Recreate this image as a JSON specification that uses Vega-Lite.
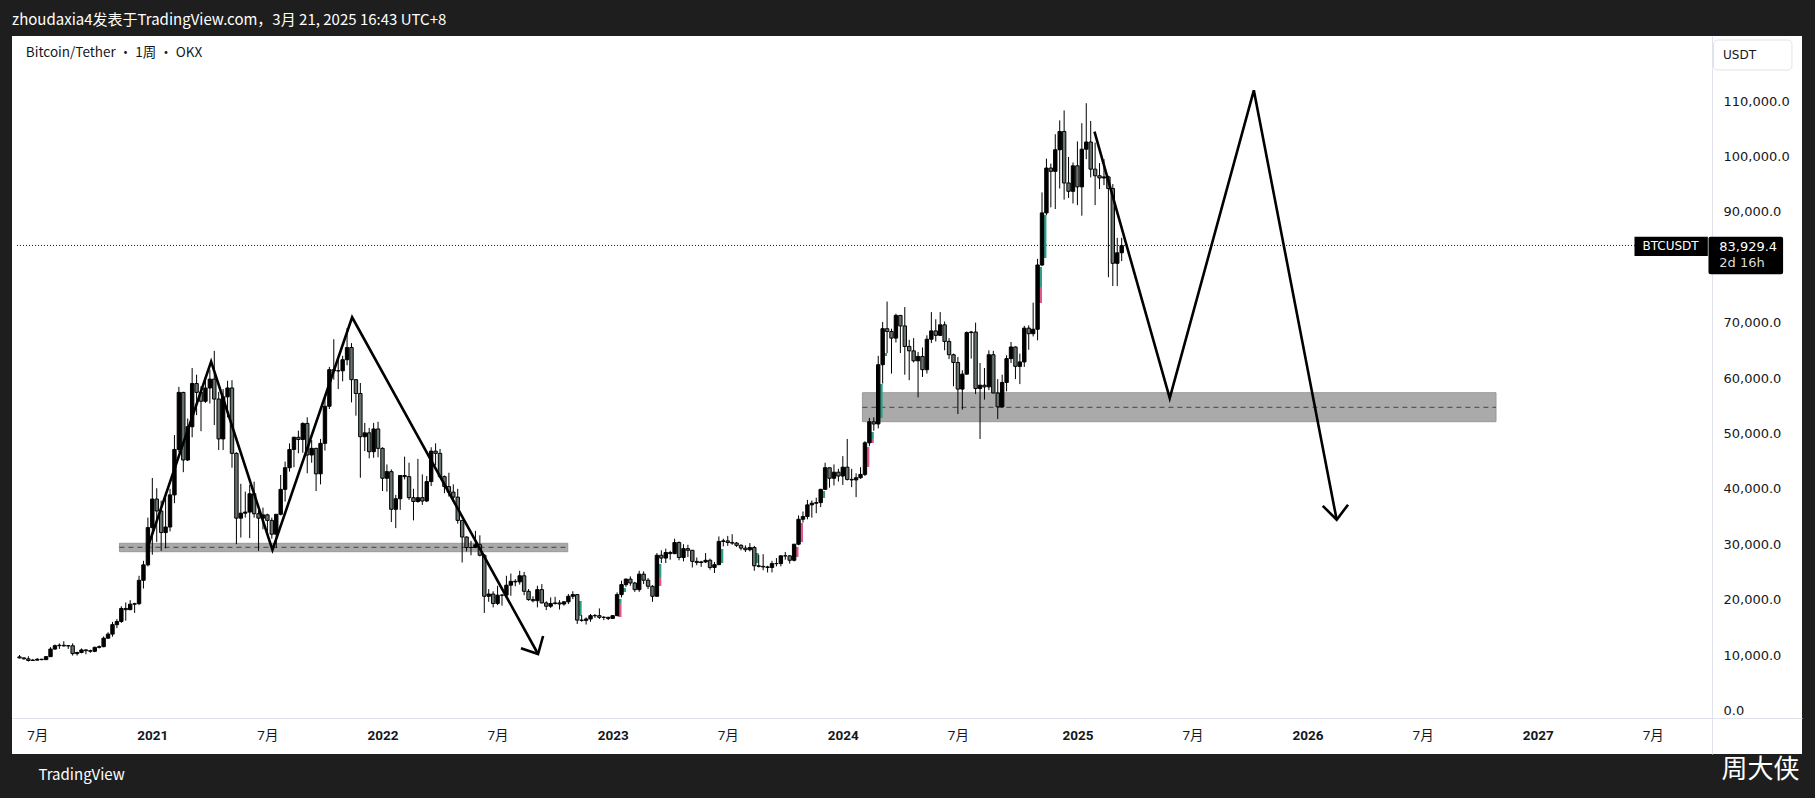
{
  "$schema": "https://vega.github.io/schema/vega-lite/v6.json",
  "width": 1790,
  "height": 718,
  "autosize": "none",
  "padding": {"left": 12, "top": 36, "right": 13, "bottom": 44},
  "background": "#1e1e1e",
  "title": {
    "text": "zhoudaxia4发表于TradingView.com，3月 21, 2025 16:43 UTC+8",
    "anchor": "start", "frame": "group", "offset": 8,
    "fontSize": 15, "font": "Noto Sans CJK SC", "fontWeight": "normal", "color": "#ffffff"
  },
  "config": {"view": {"fill": "#ffffff", "stroke": null}},
  "datasets": {
    "candles": [
      {"d":"2020-06-08","o":9660,"h":9990,"l":9380,"c":9470},
      {"d":"2020-06-15","o":9470,"h":9600,"l":9200,"c":9300},
      {"d":"2020-06-22","o":9300,"h":9770,"l":8830,"c":9010},
      {"d":"2020-06-29","o":9010,"h":9300,"l":8990,"c":9070},
      {"d":"2020-07-06","o":9070,"h":9450,"l":9040,"c":9230},
      {"d":"2020-07-13","o":9230,"h":9340,"l":9050,"c":9160},
      {"d":"2020-07-20","o":9160,"h":9780,"l":9140,"c":9700},
      {"d":"2020-07-27","o":9700,"h":11420,"l":9680,"c":11070},
      {"d":"2020-08-03","o":11070,"h":11900,"l":10950,"c":11680},
      {"d":"2020-08-10","o":11680,"h":12100,"l":11100,"c":11760},
      {"d":"2020-08-17","o":11760,"h":12480,"l":11530,"c":11640},
      {"d":"2020-08-24","o":11640,"h":11800,"l":11100,"c":11670},
      {"d":"2020-08-31","o":11670,"h":12100,"l":9900,"c":10250},
      {"d":"2020-09-07","o":10250,"h":10600,"l":9900,"c":10450},
      {"d":"2020-09-14","o":10450,"h":11180,"l":10300,"c":10920},
      {"d":"2020-09-21","o":10920,"h":10990,"l":10130,"c":10780},
      {"d":"2020-09-28","o":10780,"h":10960,"l":10400,"c":10670},
      {"d":"2020-10-05","o":10670,"h":11500,"l":10520,"c":11380},
      {"d":"2020-10-12","o":11380,"h":11730,"l":11180,"c":11500},
      {"d":"2020-10-19","o":11500,"h":13350,"l":11400,"c":13030},
      {"d":"2020-10-26","o":13030,"h":14100,"l":12950,"c":13770},
      {"d":"2020-11-02","o":13770,"h":15970,"l":13300,"c":15480},
      {"d":"2020-11-09","o":15480,"h":16480,"l":14850,"c":16060},
      {"d":"2020-11-16","o":16060,"h":18800,"l":15800,"c":18400},
      {"d":"2020-11-23","o":18400,"h":19480,"l":16200,"c":18180},
      {"d":"2020-11-30","o":18180,"h":19900,"l":18100,"c":19170},
      {"d":"2020-12-07","o":19170,"h":19420,"l":17600,"c":19270},
      {"d":"2020-12-14","o":19270,"h":24300,"l":19000,"c":23480},
      {"d":"2020-12-21","o":23480,"h":27000,"l":22000,"c":26270},
      {"d":"2020-12-28","o":26270,"h":34800,"l":26000,"c":33000},
      {"d":"2021-01-04","o":33000,"h":41950,"l":28100,"c":38150},
      {"d":"2021-01-11","o":38150,"h":40100,"l":30400,"c":36000},
      {"d":"2021-01-18","o":36000,"h":37850,"l":28800,"c":32100},
      {"d":"2021-01-25","o":32100,"h":38500,"l":29250,"c":33100},
      {"d":"2021-02-01","o":33100,"h":40000,"l":32300,"c":38900},
      {"d":"2021-02-08","o":38900,"h":49700,"l":37400,"c":47100},
      {"d":"2021-02-15","o":47100,"h":58400,"l":46600,"c":57400},
      {"d":"2021-02-22","o":57400,"h":57500,"l":43000,"c":45200},
      {"d":"2021-03-01","o":45200,"h":52700,"l":45000,"c":51200},
      {"d":"2021-03-08","o":51200,"h":61800,"l":49300,"c":59000},
      {"d":"2021-03-15","o":59000,"h":60600,"l":53300,"c":57400},
      {"d":"2021-03-22","o":57400,"h":58500,"l":50400,"c":55800},
      {"d":"2021-03-29","o":55800,"h":60200,"l":55500,"c":58200},
      {"d":"2021-04-05","o":58200,"h":61500,"l":55400,"c":59800},
      {"d":"2021-04-12","o":59800,"h":64900,"l":51500,"c":56200},
      {"d":"2021-04-19","o":56200,"h":57500,"l":47000,"c":49000},
      {"d":"2021-04-26","o":49000,"h":58000,"l":47000,"c":56600},
      {"d":"2021-05-03","o":56600,"h":59500,"l":52900,"c":58200},
      {"d":"2021-05-10","o":58200,"h":59600,"l":43800,"c":46400},
      {"d":"2021-05-17","o":46400,"h":46600,"l":30000,"c":34700},
      {"d":"2021-05-24","o":34700,"h":40900,"l":31200,"c":35600},
      {"d":"2021-05-31","o":35600,"h":39500,"l":34800,"c":35800},
      {"d":"2021-06-07","o":35800,"h":40700,"l":31100,"c":39100},
      {"d":"2021-06-14","o":39100,"h":41300,"l":34800,"c":35500},
      {"d":"2021-06-21","o":35500,"h":36100,"l":28800,"c":34700},
      {"d":"2021-06-28","o":34700,"h":36600,"l":32700,"c":35300},
      {"d":"2021-07-05","o":35300,"h":35500,"l":32200,"c":34300},
      {"d":"2021-07-12","o":34300,"h":34800,"l":31000,"c":31800},
      {"d":"2021-07-19","o":31800,"h":35400,"l":29300,"c":35400},
      {"d":"2021-07-26","o":35400,"h":42500,"l":35200,"c":39900},
      {"d":"2021-08-02","o":39900,"h":44900,"l":37700,"c":43800},
      {"d":"2021-08-09","o":43800,"h":48200,"l":43100,"c":47100},
      {"d":"2021-08-16","o":47100,"h":49400,"l":43900,"c":49300},
      {"d":"2021-08-23","o":49300,"h":50500,"l":46400,"c":48900},
      {"d":"2021-08-30","o":48900,"h":52000,"l":46500,"c":51800},
      {"d":"2021-09-06","o":51800,"h":52900,"l":42800,"c":46100},
      {"d":"2021-09-13","o":46100,"h":48800,"l":44700,"c":47300},
      {"d":"2021-09-20","o":47300,"h":47400,"l":39600,"c":42700},
      {"d":"2021-09-27","o":42700,"h":49000,"l":40800,"c":48200},
      {"d":"2021-10-04","o":48200,"h":56500,"l":46900,"c":54900},
      {"d":"2021-10-11","o":54900,"h":62000,"l":54400,"c":61500},
      {"d":"2021-10-18","o":61500,"h":67000,"l":59700,"c":61300},
      {"d":"2021-10-25","o":61300,"h":63700,"l":58000,"c":61300},
      {"d":"2021-11-01","o":61300,"h":64000,"l":59400,"c":63300},
      {"d":"2021-11-08","o":63300,"h":69000,"l":62300,"c":65500},
      {"d":"2021-11-15","o":65500,"h":66300,"l":55600,"c":59700},
      {"d":"2021-11-22","o":59700,"h":59800,"l":53200,"c":57200},
      {"d":"2021-11-29","o":57200,"h":59100,"l":42000,"c":49400},
      {"d":"2021-12-06","o":49400,"h":51900,"l":46800,"c":50100},
      {"d":"2021-12-13","o":50100,"h":51000,"l":45500,"c":46700},
      {"d":"2021-12-20","o":46700,"h":51900,"l":45600,"c":50800},
      {"d":"2021-12-27","o":50800,"h":52100,"l":45700,"c":47300},
      {"d":"2022-01-03","o":47300,"h":47500,"l":39600,"c":41900},
      {"d":"2022-01-10","o":41900,"h":44400,"l":39500,"c":43100},
      {"d":"2022-01-17","o":43100,"h":43500,"l":34000,"c":36300},
      {"d":"2022-01-24","o":36300,"h":38900,"l":32900,"c":38200},
      {"d":"2022-01-31","o":38200,"h":42500,"l":36200,"c":42400},
      {"d":"2022-02-07","o":42400,"h":45800,"l":41700,"c":42200},
      {"d":"2022-02-14","o":42200,"h":44700,"l":38000,"c":38400},
      {"d":"2022-02-21","o":38400,"h":40000,"l":34300,"c":37700},
      {"d":"2022-02-28","o":37700,"h":45400,"l":37500,"c":38400},
      {"d":"2022-03-07","o":38400,"h":42600,"l":37100,"c":37800},
      {"d":"2022-03-14","o":37800,"h":42300,"l":37600,"c":41300},
      {"d":"2022-03-21","o":41300,"h":47500,"l":40500,"c":46800},
      {"d":"2022-03-28","o":46800,"h":48200,"l":44200,"c":46400},
      {"d":"2022-04-04","o":46400,"h":47200,"l":42000,"c":42200},
      {"d":"2022-04-11","o":42200,"h":42400,"l":39200,"c":40400},
      {"d":"2022-04-18","o":40400,"h":42900,"l":38600,"c":39400},
      {"d":"2022-04-25","o":39400,"h":40800,"l":37600,"c":38500},
      {"d":"2022-05-02","o":38500,"h":40000,"l":33700,"c":34300},
      {"d":"2022-05-09","o":34300,"h":34300,"l":26700,"c":31300},
      {"d":"2022-05-16","o":31300,"h":31400,"l":28700,"c":29400},
      {"d":"2022-05-23","o":29400,"h":30600,"l":28000,"c":29400},
      {"d":"2022-05-30","o":29400,"h":32400,"l":29300,"c":29900},
      {"d":"2022-06-06","o":29900,"h":31600,"l":27800,"c":28000},
      {"d":"2022-06-13","o":28000,"h":28200,"l":17600,"c":20600},
      {"d":"2022-06-20","o":20600,"h":21900,"l":19600,"c":21000},
      {"d":"2022-06-27","o":21000,"h":21500,"l":18600,"c":19300},
      {"d":"2022-07-04","o":19300,"h":22500,"l":19000,"c":20800},
      {"d":"2022-07-11","o":20800,"h":21000,"l":18900,"c":20800},
      {"d":"2022-07-18","o":20800,"h":24300,"l":20700,"c":22600},
      {"d":"2022-07-25","o":22600,"h":24700,"l":20700,"c":23300},
      {"d":"2022-08-01","o":23300,"h":23700,"l":22400,"c":23200},
      {"d":"2022-08-08","o":23200,"h":25200,"l":22700,"c":24300},
      {"d":"2022-08-15","o":24300,"h":25000,"l":20800,"c":21500},
      {"d":"2022-08-22","o":21500,"h":21900,"l":19800,"c":20000},
      {"d":"2022-08-29","o":20000,"h":20600,"l":19500,"c":19800},
      {"d":"2022-09-05","o":19800,"h":22500,"l":18600,"c":21800},
      {"d":"2022-09-12","o":21800,"h":22800,"l":19300,"c":19400},
      {"d":"2022-09-19","o":19400,"h":19700,"l":18100,"c":18800},
      {"d":"2022-09-26","o":18800,"h":20400,"l":18500,"c":19300},
      {"d":"2022-10-03","o":19300,"h":20500,"l":19100,"c":19400},
      {"d":"2022-10-10","o":19400,"h":19900,"l":18200,"c":19200},
      {"d":"2022-10-17","o":19200,"h":19700,"l":18900,"c":19600},
      {"d":"2022-10-24","o":19600,"h":21000,"l":19200,"c":20600},
      {"d":"2022-10-31","o":20600,"h":21500,"l":20100,"c":20900},
      {"d":"2022-11-07","o":20900,"h":21000,"l":15600,"c":16300},
      {"d":"2022-11-14","o":16300,"h":17200,"l":16000,"c":16250},
      {"d":"2022-11-21","o":16250,"h":16800,"l":15500,"c":16500},
      {"d":"2022-11-28","o":16500,"h":17400,"l":16000,"c":17100},
      {"d":"2022-12-05","o":17100,"h":17400,"l":16700,"c":17100},
      {"d":"2022-12-12","o":17100,"h":18400,"l":16500,"c":16800},
      {"d":"2022-12-19","o":16800,"h":17000,"l":16300,"c":16800},
      {"d":"2022-12-26","o":16800,"h":16900,"l":16300,"c":16600},
      {"d":"2023-01-02","o":16600,"h":17200,"l":16500,"c":17100},
      {"d":"2023-01-09","o":17100,"h":21300,"l":17100,"c":20900},
      {"d":"2023-01-16","o":20900,"h":23400,"l":20400,"c":22700},
      {"d":"2023-01-23","o":22700,"h":23800,"l":22300,"c":23700},
      {"d":"2023-01-30","o":23700,"h":24200,"l":22500,"c":23000},
      {"d":"2023-02-06","o":23000,"h":23200,"l":21400,"c":21800},
      {"d":"2023-02-13","o":21800,"h":25200,"l":21400,"c":24600},
      {"d":"2023-02-20","o":24600,"h":25100,"l":22800,"c":23500},
      {"d":"2023-02-27","o":23500,"h":23900,"l":21900,"c":22400},
      {"d":"2023-03-06","o":22400,"h":22600,"l":19600,"c":20600},
      {"d":"2023-03-13","o":20600,"h":28400,"l":20600,"c":28000},
      {"d":"2023-03-20","o":28000,"h":28900,"l":26600,"c":27500},
      {"d":"2023-03-27","o":27500,"h":29200,"l":26600,"c":28500},
      {"d":"2023-04-03","o":28500,"h":28800,"l":27200,"c":28300},
      {"d":"2023-04-10","o":28300,"h":31000,"l":28200,"c":30300},
      {"d":"2023-04-17","o":30300,"h":30500,"l":27100,"c":27600},
      {"d":"2023-04-24","o":27600,"h":30000,"l":26900,"c":29200},
      {"d":"2023-05-01","o":29200,"h":29900,"l":27700,"c":28900},
      {"d":"2023-05-08","o":28900,"h":28900,"l":25800,"c":26900},
      {"d":"2023-05-15","o":26900,"h":27600,"l":26200,"c":26700},
      {"d":"2023-05-22","o":26700,"h":27000,"l":25900,"c":26800},
      {"d":"2023-05-29","o":26800,"h":28400,"l":26600,"c":27100},
      {"d":"2023-06-05","o":27100,"h":27400,"l":25400,"c":25800},
      {"d":"2023-06-12","o":25800,"h":26800,"l":24800,"c":26300},
      {"d":"2023-06-19","o":26300,"h":31400,"l":26300,"c":30500},
      {"d":"2023-06-26","o":30500,"h":31000,"l":29600,"c":30600},
      {"d":"2023-07-03","o":30600,"h":31500,"l":29700,"c":30300},
      {"d":"2023-07-10","o":30300,"h":31800,"l":29900,"c":30200},
      {"d":"2023-07-17","o":30200,"h":30400,"l":29500,"c":29800},
      {"d":"2023-07-24","o":29800,"h":30000,"l":28900,"c":29300},
      {"d":"2023-07-31","o":29300,"h":29800,"l":28600,"c":29000},
      {"d":"2023-08-07","o":29000,"h":30200,"l":28700,"c":29400},
      {"d":"2023-08-14","o":29400,"h":29700,"l":25200,"c":26100},
      {"d":"2023-08-21","o":26100,"h":28100,"l":25800,"c":26000},
      {"d":"2023-08-28","o":26000,"h":28200,"l":25300,"c":25900},
      {"d":"2023-09-04","o":25900,"h":26100,"l":24900,"c":25800},
      {"d":"2023-09-11","o":25800,"h":27000,"l":24900,"c":26500},
      {"d":"2023-09-18","o":26500,"h":27500,"l":26000,"c":26500},
      {"d":"2023-09-25","o":26500,"h":28000,"l":26000,"c":27900},
      {"d":"2023-10-02","o":27900,"h":28600,"l":27200,"c":27900},
      {"d":"2023-10-09","o":27900,"h":28000,"l":26500,"c":27100},
      {"d":"2023-10-16","o":27100,"h":30000,"l":26900,"c":30000},
      {"d":"2023-10-23","o":30000,"h":35200,"l":29800,"c":34500},
      {"d":"2023-10-30","o":34500,"h":35900,"l":33900,"c":35000},
      {"d":"2023-11-06","o":35000,"h":38000,"l":34500,"c":37100},
      {"d":"2023-11-13","o":37100,"h":37900,"l":34800,"c":37400},
      {"d":"2023-11-20","o":37400,"h":38400,"l":35600,"c":37500},
      {"d":"2023-11-27","o":37500,"h":40000,"l":36700,"c":39900},
      {"d":"2023-12-04","o":39900,"h":44700,"l":39900,"c":43800},
      {"d":"2023-12-11","o":43800,"h":43800,"l":40200,"c":41900},
      {"d":"2023-12-18","o":41900,"h":44400,"l":40600,"c":43000},
      {"d":"2023-12-25","o":43000,"h":43600,"l":41300,"c":42300},
      {"d":"2024-01-01","o":42300,"h":45900,"l":40700,"c":43900},
      {"d":"2024-01-08","o":43900,"h":49000,"l":41500,"c":41700},
      {"d":"2024-01-15","o":41700,"h":43600,"l":40300,"c":41600},
      {"d":"2024-01-22","o":41600,"h":42800,"l":38500,"c":42000},
      {"d":"2024-01-29","o":42000,"h":43900,"l":41800,"c":42600},
      {"d":"2024-02-05","o":42600,"h":48600,"l":42300,"c":48300},
      {"d":"2024-02-12","o":48300,"h":52800,"l":47700,"c":52100},
      {"d":"2024-02-19","o":52100,"h":52900,"l":50500,"c":51700},
      {"d":"2024-02-26","o":51700,"h":64000,"l":50900,"c":62400},
      {"d":"2024-03-04","o":62400,"h":70100,"l":59000,"c":68900},
      {"d":"2024-03-11","o":68900,"h":73800,"l":64500,"c":68400},
      {"d":"2024-03-18","o":68400,"h":68900,"l":60800,"c":67200},
      {"d":"2024-03-25","o":67200,"h":71600,"l":66400,"c":71300},
      {"d":"2024-04-01","o":71300,"h":71300,"l":64500,"c":69400},
      {"d":"2024-04-08","o":69400,"h":72800,"l":60600,"c":65700},
      {"d":"2024-04-15","o":65700,"h":66900,"l":59600,"c":64900},
      {"d":"2024-04-22","o":64900,"h":67200,"l":62800,"c":63100},
      {"d":"2024-04-29","o":63100,"h":64700,"l":56500,"c":63900},
      {"d":"2024-05-06","o":63900,"h":65500,"l":60200,"c":61500},
      {"d":"2024-05-13","o":61500,"h":67700,"l":60800,"c":67000},
      {"d":"2024-05-20","o":67000,"h":71900,"l":66300,"c":68500},
      {"d":"2024-05-27","o":68500,"h":70600,"l":66600,"c":67700},
      {"d":"2024-06-03","o":67700,"h":71900,"l":67600,"c":69600},
      {"d":"2024-06-10","o":69600,"h":70200,"l":65000,"c":66600},
      {"d":"2024-06-17","o":66600,"h":67200,"l":63400,"c":64200},
      {"d":"2024-06-24","o":64200,"h":64400,"l":58500,"c":62800},
      {"d":"2024-07-01","o":62800,"h":63800,"l":53500,"c":58000},
      {"d":"2024-07-08","o":58000,"h":61400,"l":54300,"c":60700},
      {"d":"2024-07-15","o":60700,"h":68400,"l":60600,"c":68200},
      {"d":"2024-07-22","o":68200,"h":68500,"l":63500,"c":68300},
      {"d":"2024-07-29","o":68300,"h":70000,"l":57100,"c":58100},
      {"d":"2024-08-05","o":58100,"h":62700,"l":49000,"c":58700},
      {"d":"2024-08-12","o":58700,"h":61800,"l":56100,"c":58400},
      {"d":"2024-08-19","o":58400,"h":65000,"l":57800,"c":64200},
      {"d":"2024-08-26","o":64200,"h":64900,"l":57200,"c":57300},
      {"d":"2024-09-02","o":57300,"h":59800,"l":52600,"c":54800},
      {"d":"2024-09-09","o":54800,"h":60600,"l":54600,"c":59200},
      {"d":"2024-09-16","o":59200,"h":64100,"l":57600,"c":63500},
      {"d":"2024-09-23","o":63500,"h":66500,"l":62700,"c":65600},
      {"d":"2024-09-30","o":65600,"h":65700,"l":59800,"c":62100},
      {"d":"2024-10-07","o":62100,"h":64400,"l":58900,"c":62900},
      {"d":"2024-10-14","o":62900,"h":69400,"l":62000,"c":69000},
      {"d":"2024-10-21","o":69000,"h":69500,"l":65100,"c":68000},
      {"d":"2024-10-28","o":68000,"h":73600,"l":67500,"c":68800},
      {"d":"2024-11-04","o":68800,"h":81500,"l":66800,"c":80400},
      {"d":"2024-11-11","o":80400,"h":93500,"l":80200,"c":89800},
      {"d":"2024-11-18","o":89800,"h":99600,"l":89400,"c":97900},
      {"d":"2024-11-25","o":97900,"h":98700,"l":90800,"c":97300},
      {"d":"2024-12-02","o":97300,"h":104000,"l":90500,"c":101200},
      {"d":"2024-12-09","o":101200,"h":106500,"l":94200,"c":104500},
      {"d":"2024-12-16","o":104500,"h":108300,"l":92200,"c":95200},
      {"d":"2024-12-23","o":95200,"h":99900,"l":92500,"c":93700},
      {"d":"2024-12-30","o":93700,"h":98900,"l":91500,"c":98300},
      {"d":"2025-01-06","o":98300,"h":102700,"l":91200,"c":94500},
      {"d":"2025-01-13","o":94500,"h":106000,"l":89300,"c":101300},
      {"d":"2025-01-20","o":101300,"h":109600,"l":99500,"c":102600},
      {"d":"2025-01-27","o":102600,"h":106400,"l":96200,"c":97700},
      {"d":"2025-02-03","o":97700,"h":102500,"l":91200,"c":96500},
      {"d":"2025-02-10","o":96500,"h":98800,"l":94100,"c":96100},
      {"d":"2025-02-17","o":96100,"h":99500,"l":94800,"c":96300},
      {"d":"2025-02-24","o":96300,"h":96500,"l":78200,"c":94200},
      {"d":"2025-03-03","o":94200,"h":95000,"l":76600,"c":80700},
      {"d":"2025-03-10","o":80700,"h":85300,"l":76600,"c":82600},
      {"d":"2025-03-17","o":82600,"h":85300,"l":81100,"c":83900}
    ],
    "gaps": [
      {"s":"2022-11-08","e":"2022-11-14","t":19747,"b":17040,"k":"teal"},
      {"s":"2023-01-10","e":"2023-01-16","t":20108,"b":19386,"k":"teal"},
      {"s":"2023-01-10","e":"2023-01-16","t":19386,"b":16859,"k":"pink"},
      {"s":"2023-01-17","e":"2023-01-23","t":22094,"b":21372,"k":"teal"},
      {"s":"2023-03-14","e":"2023-03-20","t":26426,"b":24079,"k":"teal"},
      {"s":"2023-03-14","e":"2023-03-20","t":24079,"b":22455,"k":"pink"},
      {"s":"2023-06-20","e":"2023-06-26","t":29134,"b":26606,"k":"teal"},
      {"s":"2023-08-15","e":"2023-08-21","t":28412,"b":26606,"k":"teal"},
      {"s":"2023-10-17","e":"2023-10-23","t":29495,"b":27690,"k":"pink"},
      {"s":"2023-10-24","e":"2023-10-30","t":33827,"b":30397,"k":"pink"},
      {"s":"2023-11-28","e":"2023-12-04","t":39603,"b":38339,"k":"teal"},
      {"s":"2024-02-06","e":"2024-02-12","t":47545,"b":43935,"k":"pink"},
      {"s":"2024-02-13","e":"2024-02-19","t":50253,"b":48989,"k":"teal"},
      {"s":"2024-02-13","e":"2024-02-19","t":48989,"b":48267,"k":"pink"},
      {"s":"2024-02-27","e":"2024-03-04","t":58917,"b":52780,"k":"teal"},
      {"s":"2024-03-05","e":"2024-03-11","t":64513,"b":63971,"k":"teal"},
      {"s":"2024-11-05","e":"2024-11-11","t":80036,"b":76426,"k":"teal"},
      {"s":"2024-11-05","e":"2024-11-11","t":76426,"b":73538,"k":"pink"},
      {"s":"2024-11-12","e":"2024-11-18","t":89422,"b":81661,"k":"teal"}
    ],
    "zones": [
      {"s":"2020-11-13","e":"2022-10-23","t":30162,"b":28646,"m":29440},
      {"s":"2024-02-01","e":"2026-10-30","t":57347,"b":52112,"m":54711}
    ],
    "paths": [
      {"g":"L","i":0,"d":"2020-12-29","v":29856},
      {"g":"L","i":1,"d":"2021-04-07","v":62942},
      {"g":"L","i":2,"d":"2021-07-13","v":28953},
      {"g":"L","i":3,"d":"2021-11-16","v":70957},
      {"g":"L","i":4,"d":"2022-09-06","v":10180},
      {"g":"LA","i":0,"d":"2022-08-10","v":11209},
      {"g":"LA","i":1,"d":"2022-09-06","v":10180},
      {"g":"LA","i":2,"d":"2022-09-14","v":13430},
      {"g":"R","i":0,"d":"2025-02-02","v":104458},
      {"g":"R","i":1,"d":"2025-06-01","v":56354},
      {"g":"R","i":2,"d":"2025-10-12","v":111931},
      {"g":"R","i":3,"d":"2026-02-20","v":34422},
      {"g":"RA","i":0,"d":"2026-01-29","v":36931},
      {"g":"RA","i":1,"d":"2026-02-20","v":34422},
      {"g":"RA","i":2,"d":"2026-03-10","v":37130}
    ]
  },
  "layer": [
    {
      "data": {"name": "zones"},
      "mark": {"type": "rect", "fill": "#aaaaaa", "stroke": "#999999", "strokeWidth": 1},
      "encoding": {
        "x": {"field": "s", "type": "temporal", "scale": {"type": "utc", "domain": [{"year": 2020, "month": 6, "date": 4, "utc": true}, {"year": 2028, "month": 2, "date": 18, "utc": true}]},
          "axis": {
            "values": [
              {"year": 2020, "month": 7, "date": 6, "utc": true},
              {"year": 2021, "month": 1, "date": 4, "utc": true},
              {"year": 2021, "month": 7, "date": 5, "utc": true},
              {"year": 2022, "month": 1, "date": 3, "utc": true},
              {"year": 2022, "month": 7, "date": 4, "utc": true},
              {"year": 2023, "month": 1, "date": 2, "utc": true},
              {"year": 2023, "month": 7, "date": 3, "utc": true},
              {"year": 2024, "month": 1, "date": 1, "utc": true},
              {"year": 2024, "month": 7, "date": 1, "utc": true},
              {"year": 2025, "month": 1, "date": 6, "utc": true},
              {"year": 2025, "month": 7, "date": 7, "utc": true},
              {"year": 2026, "month": 1, "date": 5, "utc": true},
              {"year": 2026, "month": 7, "date": 6, "utc": true},
              {"year": 2027, "month": 1, "date": 4, "utc": true},
              {"year": 2027, "month": 7, "date": 5, "utc": true}
            ],
            "labelExpr": "utcmonth(datum.value) == 0 ? utcFormat(datum.value, '%Y') : '7月'",
            "labelFontWeight": {"condition": {"test": "utcmonth(datum.value) == 0", "value": "bold"}, "value": "normal"},
            "offset": -36, "ticks": false, "grid": false, "labelPadding": 10,
            "domainColor": "#e0e3eb", "labelColor": "#131722", "labelFontSize": 13.5,
            "labelFont": "Roboto, Noto Sans CJK SC", "labelFlush": false, "labelOverlap": false, "labelBound": false,
            "title": "TradingView", "titleAnchor": "start", "titleAlign": "left", "titleX": 26, "titleY": 56,
            "titleBaseline": "middle", "titleColor": "#ffffff", "titleFontSize": 15, "titleFont": "Noto Sans CJK SC", "titleFontWeight": "normal"
          }
        },
        "x2": {"field": "e"},
        "y": {"field": "t", "type": "quantitative", "scale": {"domain": [-7870, 121733], "nice": false, "zero": false},
          "axis": {
            "orient": "right", "values": [0, 10000, 20000, 30000, 40000, 50000, 60000, 70000, 90000, 100000, 110000],
            "format": ",.1f", "offset": -90, "ticks": false, "grid": false, "labelPadding": 11,
            "domainColor": "#e0e3eb", "labelColor": "#131722", "labelFontSize": 13, "labelFont": "DejaVu Sans",
            "labelFlush": false, "labelOverlap": false, "labelBound": false,
            "title": "周大侠", "titleAngle": 0, "titleX": 9, "titleY": 733, "titleAlign": "left", "titleBaseline": "middle",
            "titleColor": "#ffffff", "titleFontSize": 26, "titleFont": "Noto Sans CJK SC", "titleFontWeight": "normal"
          }
        },
        "y2": {"field": "b"}
      }
    },
    {
      "data": {"name": "zones"},
      "mark": {"type": "rule", "stroke": "#444444", "strokeWidth": 1, "strokeDash": [5, 4]},
      "encoding": {
        "x": {"field": "s", "type": "temporal", "scale": {"type": "utc", "domain": [{"year": 2020, "month": 6, "date": 4, "utc": true}, {"year": 2028, "month": 2, "date": 18, "utc": true}]}},
        "x2": {"field": "e"},
        "y": {"field": "m", "type": "quantitative", "scale": {"domain": [-7870, 121733], "nice": false, "zero": false}}
      }
    },
    {
      "data": {"values": [{}]},
      "mark": {"type": "rule", "stroke": "#131722", "strokeWidth": 1, "strokeDash": [1, 2]},
      "encoding": {
        "x": {"datum": {"year": 2020, "month": 6, "date": 4, "utc": true}, "type": "temporal", "scale": {"type": "utc", "domain": [{"year": 2020, "month": 6, "date": 4, "utc": true}, {"year": 2028, "month": 2, "date": 18, "utc": true}]}},
        "x2": {"datum": {"year": 2027, "month": 9, "date": 30, "utc": true}},
        "y": {"datum": 83929.4, "type": "quantitative", "scale": {"domain": [-7870, 121733], "nice": false, "zero": false}}
      }
    },
    {
      "data": {"name": "gaps"},
      "mark": {"type": "rect"},
      "encoding": {
        "x": {"field": "s", "type": "temporal", "scale": {"type": "utc", "domain": [{"year": 2020, "month": 6, "date": 4, "utc": true}, {"year": 2028, "month": 2, "date": 18, "utc": true}]}},
        "x2": {"field": "e"},
        "y": {"field": "t", "type": "quantitative", "scale": {"domain": [-7870, 121733], "nice": false, "zero": false}},
        "y2": {"field": "b"},
        "fill": {"condition": {"test": "datum.k == 'teal'", "value": "#2f9e88"}, "value": "#e2588c"}
      }
    },
    {
      "data": {"name": "candles"},
      "mark": {"type": "rule", "stroke": "#000000", "strokeWidth": 1},
      "encoding": {
        "x": {"field": "d", "type": "temporal", "scale": {"type": "utc", "domain": [{"year": 2020, "month": 6, "date": 4, "utc": true}, {"year": 2028, "month": 2, "date": 18, "utc": true}]}},
        "y": {"field": "l", "type": "quantitative", "scale": {"domain": [-7870, 121733], "nice": false, "zero": false}},
        "y2": {"field": "h"}
      }
    },
    {
      "data": {"name": "candles"},
      "mark": {"type": "bar", "size": 3.4, "stroke": "#000000", "strokeWidth": 1},
      "encoding": {
        "x": {"field": "d", "type": "temporal", "scale": {"type": "utc", "domain": [{"year": 2020, "month": 6, "date": 4, "utc": true}, {"year": 2028, "month": 2, "date": 18, "utc": true}]}},
        "y": {"field": "o", "type": "quantitative", "scale": {"domain": [-7870, 121733], "nice": false, "zero": false}},
        "y2": {"field": "c"},
        "fill": {"condition": {"test": "datum.c < datum.o", "value": "#66736f"}, "value": "#000000"}
      }
    },
    {
      "data": {"name": "paths"},
      "mark": {"type": "line", "stroke": "#000000", "strokeWidth": 2.6, "strokeJoin": "miter", "strokeCap": "butt"},
      "encoding": {
        "x": {"field": "d", "type": "temporal", "scale": {"type": "utc", "domain": [{"year": 2020, "month": 6, "date": 4, "utc": true}, {"year": 2028, "month": 2, "date": 18, "utc": true}]}},
        "y": {"field": "v", "type": "quantitative", "scale": {"domain": [-7870, 121733], "nice": false, "zero": false}},
        "detail": {"field": "g"},
        "order": {"field": "i"}
      }
    },
    {
      "data": {"values": [{}]},
      "mark": {"type": "rect", "fill": "#000000"},
      "encoding": {
        "x": {"datum": {"year": 2027, "month": 6, "date": 6, "utc": true}, "type": "temporal", "scale": {"type": "utc", "domain": [{"year": 2020, "month": 6, "date": 4, "utc": true}, {"year": 2028, "month": 2, "date": 18, "utc": true}]}},
        "x2": {"datum": {"year": 2027, "month": 9, "date": 30, "utc": true}},
        "y": {"datum": 85505, "type": "quantitative", "scale": {"domain": [-7870, 121733], "nice": false, "zero": false}},
        "y2": {"datum": 82022}
      }
    },
    {
      "data": {"values": [{}]},
      "mark": {"type": "rect", "fill": "#000000", "cornerRadius": 2},
      "encoding": {
        "x": {"datum": {"year": 2027, "month": 10, "date": 1, "utc": true}, "type": "temporal", "scale": {"type": "utc", "domain": [{"year": 2020, "month": 6, "date": 4, "utc": true}, {"year": 2028, "month": 2, "date": 18, "utc": true}]}},
        "x2": {"datum": {"year": 2028, "month": 1, "date": 27, "utc": true}},
        "y": {"datum": 85505, "type": "quantitative", "scale": {"domain": [-7870, 121733], "nice": false, "zero": false}},
        "y2": {"datum": 78718}
      }
    },
    {
      "data": {"values": [{}]},
      "mark": {"type": "rect", "fill": "#ffffff", "stroke": "#e0e3eb", "strokeWidth": 1, "cornerRadius": 4},
      "encoding": {
        "x": {"datum": {"year": 2027, "month": 10, "date": 9, "utc": true}, "type": "temporal", "scale": {"type": "utc", "domain": [{"year": 2020, "month": 6, "date": 4, "utc": true}, {"year": 2028, "month": 2, "date": 18, "utc": true}]}},
        "x2": {"datum": {"year": 2028, "month": 2, "date": 10, "utc": true}},
        "y": {"datum": 121000, "type": "quantitative", "scale": {"domain": [-7870, 121733], "nice": false, "zero": false}},
        "y2": {"datum": 115596}
      }
    },
    {
      "data": {"values": [{}]},
      "mark": {"type": "text", "text": "USDT", "align": "left", "baseline": "middle", "fontSize": 12, "font": "DejaVu Sans", "color": "#131722"},
      "encoding": {
        "x": {"datum": {"year": 2027, "month": 10, "date": 24, "utc": true}, "type": "temporal", "scale": {"type": "utc", "domain": [{"year": 2020, "month": 6, "date": 4, "utc": true}, {"year": 2028, "month": 2, "date": 18, "utc": true}]}},
        "y": {"datum": 118303, "type": "quantitative", "scale": {"domain": [-7870, 121733], "nice": false, "zero": false}}
      }
    },
    {
      "data": {"values": [{}]},
      "mark": {"type": "text", "text": "Bitcoin/Tether · 1周 · OKX", "align": "left", "baseline": "middle", "fontSize": 13.5, "font": "Noto Sans CJK SC", "color": "#131722"},
      "encoding": {
        "x": {"datum": {"year": 2020, "month": 6, "date": 18, "utc": true}, "type": "temporal", "scale": {"type": "utc", "domain": [{"year": 2020, "month": 6, "date": 4, "utc": true}, {"year": 2028, "month": 2, "date": 18, "utc": true}]}},
        "y": {"datum": 118664, "type": "quantitative", "scale": {"domain": [-7870, 121733], "nice": false, "zero": false}}
      }
    },
    {
      "data": {"values": [{}]},
      "mark": {"type": "text", "text": "BTCUSDT", "align": "center", "baseline": "middle", "fontSize": 12, "font": "DejaVu Sans", "color": "#ffffff"},
      "encoding": {
        "x": {"datum": {"year": 2027, "month": 8, "date": 2, "utc": true}, "type": "temporal", "scale": {"type": "utc", "domain": [{"year": 2020, "month": 6, "date": 4, "utc": true}, {"year": 2028, "month": 2, "date": 18, "utc": true}]}},
        "y": {"datum": 83830, "type": "quantitative", "scale": {"domain": [-7870, 121733], "nice": false, "zero": false}}
      }
    },
    {
      "data": {"values": [{}]},
      "mark": {"type": "text", "text": "83,929.4", "align": "left", "baseline": "middle", "fontSize": 13, "font": "DejaVu Sans", "color": "#ffffff"},
      "encoding": {
        "x": {"datum": {"year": 2027, "month": 10, "date": 18, "utc": true}, "type": "temporal", "scale": {"type": "utc", "domain": [{"year": 2020, "month": 6, "date": 4, "utc": true}, {"year": 2028, "month": 2, "date": 18, "utc": true}]}},
        "y": {"datum": 83700, "type": "quantitative", "scale": {"domain": [-7870, 121733], "nice": false, "zero": false}}
      }
    },
    {
      "data": {"values": [{}]},
      "mark": {"type": "text", "text": "2d 16h", "align": "left", "baseline": "middle", "fontSize": 13, "font": "DejaVu Sans", "color": "#dddddd"},
      "encoding": {
        "x": {"datum": {"year": 2027, "month": 10, "date": 18, "utc": true}, "type": "temporal", "scale": {"type": "utc", "domain": [{"year": 2020, "month": 6, "date": 4, "utc": true}, {"year": 2028, "month": 2, "date": 18, "utc": true}]}},
        "y": {"datum": 80812, "type": "quantitative", "scale": {"domain": [-7870, 121733], "nice": false, "zero": false}}
      }
    }
  ]
}
